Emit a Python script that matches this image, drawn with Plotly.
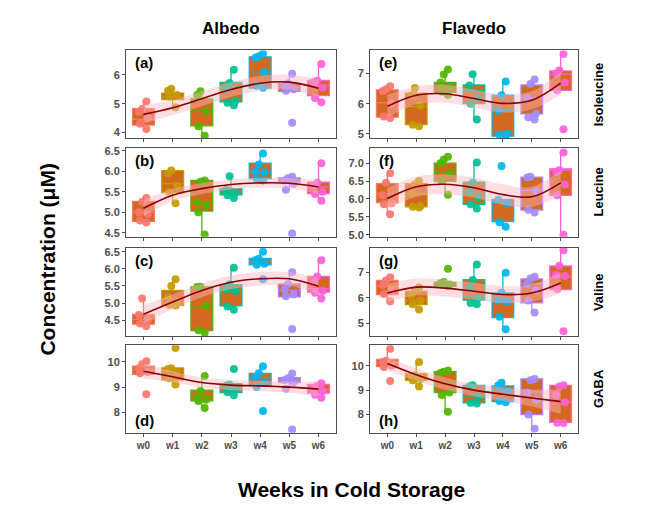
import plotly.graph_objects as go

weeks = ["w0", "w1", "w2", "w3", "w4", "w5", "w6"]
week_colors = ["#F8766D", "#C49A00", "#53B400", "#00C094", "#00B6EB", "#A58AFF", "#FB61D7"]
tissues = ["Albedo", "Flavedo"]
compounds = ["Isoleucine", "Leucine", "Valine", "GABA"]
panel_tags = [["(a)", "(e)"], ["(b)", "(f)"], ["(c)", "(g)"], ["(d)", "(h)"]]

# ---- (a) Albedo / Isoleucine ----
a_points = [[5.08, 4.82, 4.72, 4.5, 4.3, 4.12], [5.52, 5.45, 5.3, 5.25, 4.88],
            [5.43, 5.3, 4.74, 4.22, 3.89], [6.18, 5.72, 5.5, 5.1, 5.03, 4.95],
            [6.74, 6.65, 6.6, 6.1, 5.62, 5.55], [6.04, 5.7, 5.65, 5.5, 5.45, 4.34],
            [6.38, 5.8, 5.75, 5.55, 5.2, 5.05]]
a_boxes = [(4.11, 4.26, 4.46, 4.83, 5.09), (4.88, 5.14, 5.23, 5.37, 5.54), (3.89, 4.23, 4.75, 5.17, 5.43),
           (4.97, 5.06, 5.58, 5.74, 6.15), (5.5, 5.54, 6.06, 6.63, 6.74), (5.4, 5.43, 5.57, 5.71, 6.03),
           (5.05, 5.28, 5.63, 5.81, 6.38)]
a_curve = [4.63, 4.86, 5.17, 5.49, 5.71, 5.75, 5.54]
a_band = [0.32, 0.26, 0.26, 0.26, 0.26, 0.26, 0.32]

# ---- (e) Flavedo / Isoleucine ----
e_points = [[6.58, 6.48, 6.42, 6.0, 5.57, 5.52], [6.52, 6.28, 5.93, 5.3, 5.25],
            [7.14, 6.97, 6.7, 6.55, 6.4, 6.3], [6.98, 6.6, 6.2, 6.0, 5.47],
            [6.74, 6.28, 5.77, 5.0, 4.97, 4.95], [6.8, 6.65, 6.2, 5.67, 5.55, 5.47],
            [7.65, 7.1, 7.0, 6.7, 6.45, 5.15]]
e_boxes = [(5.52, 5.55, 6.03, 6.46, 6.58), (5.25, 5.3, 5.9, 6.35, 6.55), (6.28, 6.38, 6.55, 6.71, 7.14),
           (5.46, 6.0, 6.44, 6.62, 6.98), (4.92, 4.92, 5.77, 6.28, 6.74), (5.46, 5.66, 6.2, 6.62, 6.8),
           (6.44, 6.44, 6.98, 7.09, 7.63)]
e_curve = [5.91, 6.28, 6.33, 6.17, 6.01, 6.11, 6.68]
e_band = [0.38, 0.3, 0.3, 0.3, 0.3, 0.3, 0.38]

# ---- (b) Albedo / Leucine ----
b_points = [[5.35, 5.25, 5.0, 4.95, 4.8, 4.75], [6.02, 5.95, 5.65, 5.5, 5.22],
            [5.78, 5.75, 5.25, 5.18, 5.0, 4.46], [5.88, 5.55, 5.48, 5.42, 5.35],
            [6.44, 6.17, 6.0, 5.98, 5.82, 5.78], [5.87, 5.83, 5.78, 5.7, 5.55, 4.48],
            [6.2, 5.72, 5.65, 5.5, 5.45, 5.28]]
b_boxes = [(4.75, 4.78, 5.0, 5.27, 5.4), (5.23, 5.48, 5.7, 6.02, 6.02), (4.46, 5.03, 5.26, 5.78, 5.78),
           (5.35, 5.43, 5.5, 5.58, 5.9), (5.78, 5.82, 5.98, 6.2, 6.46), (5.54, 5.74, 5.8, 5.84, 5.88),
           (5.28, 5.46, 5.62, 5.74, 6.2)]
b_curve = [5.1, 5.42, 5.58, 5.68, 5.72, 5.71, 5.62]
b_band = [0.2, 0.15, 0.13, 0.12, 0.12, 0.13, 0.17]

# ---- (f) Flavedo / Leucine ----
f_points = [[6.72, 6.45, 6.1, 5.88, 5.85, 5.57], [6.5, 6.4, 6.15, 5.8, 5.78, 5.76],
            [7.18, 7.1, 7.0, 6.72, 6.5, 6.12], [7.02, 6.45, 6.2, 6.05, 5.85, 5.73],
            [6.92, 5.98, 5.88, 5.35, 5.22], [6.62, 6.6, 6.22, 5.7, 5.62],
            [7.3, 6.8, 6.75, 6.4, 6.1, 5.0]]
f_boxes = [(5.55, 5.9, 6.15, 6.43, 6.72), (5.76, 5.78, 6.15, 6.43, 6.54), (6.12, 6.49, 6.75, 7.0, 7.19),
           (5.72, 5.85, 6.2, 6.47, 7.03), (5.2, 5.37, 5.88, 5.99, 5.99), (5.62, 5.69, 6.24, 6.61, 6.62),
           (5.0, 6.1, 6.8, 6.84, 7.3)]
f_curve = [6.01, 6.34, 6.41, 6.31, 6.12, 6.06, 6.45]
f_band = [0.3, 0.28, 0.28, 0.28, 0.28, 0.28, 0.35]

# ---- (c) Albedo / Valine ----
c_points = [[5.13, 4.65, 4.5, 4.4, 4.33], [5.7, 5.5, 5.2, 5.0, 4.95, 4.93],
            [5.48, 5.47, 4.92, 4.2, 4.13], [6.03, 5.55, 5.4, 5.35, 4.9, 4.8],
            [6.5, 6.3, 6.25, 6.15, 6.12, 5.7], [5.9, 5.55, 5.4, 5.25, 5.2, 4.24],
            [6.25, 5.78, 5.6, 5.35, 5.3, 5.13]]
c_boxes = [(4.33, 4.38, 4.52, 4.67, 5.13), (4.93, 4.93, 5.13, 5.37, 5.71), (4.13, 4.19, 4.88, 5.47, 5.48),
           (4.79, 4.92, 5.37, 5.54, 6.05), (6.12, 6.12, 6.22, 6.31, 6.51), (5.18, 5.18, 5.37, 5.56, 5.93),
           (5.13, 5.32, 5.42, 5.78, 6.26)]
c_curve = [4.67, 5.03, 5.37, 5.61, 5.71, 5.71, 5.49]
c_band = [0.27, 0.22, 0.2, 0.2, 0.2, 0.2, 0.25]

# ---- (g) Flavedo / Valine ----
g_points = [[6.8, 6.68, 6.5, 6.3, 6.15, 5.87], [6.4, 6.3, 6.1, 5.9, 5.75, 5.55],
            [7.13, 6.62, 6.57, 6.52, 6.5, 6.46], [7.3, 6.7, 6.38, 6.0, 5.8, 5.75],
            [6.98, 6.2, 5.9, 5.85, 5.27, 4.78], [6.82, 6.75, 6.55, 6.3, 5.9, 5.43],
            [7.85, 7.25, 6.9, 6.85, 6.35, 4.7]]
g_boxes = [(5.83, 6.13, 6.45, 6.68, 6.83), (5.55, 5.74, 5.91, 6.26, 6.41), (6.45, 6.45, 6.51, 6.6, 6.62),
           (5.74, 5.91, 6.06, 6.71, 7.31), (4.78, 5.23, 5.87, 6.19, 6.96), (5.42, 5.81, 6.55, 6.74, 6.82),
           (6.32, 6.32, 6.83, 7.24, 7.83)]
g_curve = [6.19, 6.42, 6.38, 6.26, 6.13, 6.19, 6.58]
g_band = [0.35, 0.33, 0.33, 0.33, 0.33, 0.33, 0.42]

# ---- (d) Albedo / GABA ----
d_points = [[10.02, 9.9, 9.75, 9.6, 9.55, 8.72], [10.55, 9.75, 9.72, 9.6, 9.35, 9.1],
            [9.44, 8.85, 8.6, 8.5, 8.45, 8.17], [9.72, 9.1, 9.05, 8.95, 8.8, 8.68],
            [9.82, 9.55, 9.4, 9.15, 9.0, 8.06], [9.54, 9.35, 9.28, 9.2, 8.94, 7.32],
            [9.15, 9.05, 8.95, 8.85, 8.7, 8.58]]
d_boxes = [(9.5, 9.5, 9.67, 9.83, 10.07), (9.11, 9.28, 9.63, 9.76, 9.76), (8.22, 8.46, 8.65, 8.88, 9.44),
           (8.68, 8.78, 9.0, 9.14, 9.14), (9.0, 9.05, 9.37, 9.54, 9.83), (8.94, 9.18, 9.28, 9.37, 9.54),
           (8.59, 8.76, 8.89, 9.11, 9.2)]
d_curve = [9.63, 9.41, 9.18, 9.08, 9.05, 9.0, 8.92]
d_band = [0.3, 0.22, 0.2, 0.2, 0.2, 0.22, 0.3]

# ---- (h) Flavedo / GABA ----
h_points = [[10.69, 10.2, 10.15, 10.0, 9.95, 9.37], [10.15, 9.6, 9.55, 9.45, 9.4, 9.15],
            [9.8, 9.75, 9.7, 8.9, 8.8, 8.12], [9.2, 9.15, 8.75, 8.48, 8.45],
            [9.3, 9.2, 8.95, 8.55, 8.5], [9.45, 9.4, 8.9, 8.6, 8.0, 7.42],
            [9.2, 9.15, 8.8, 8.5, 7.67, 7.65]]
h_boxes = [(9.95, 9.96, 10.13, 10.26, 10.69), (9.17, 9.4, 9.56, 9.67, 10.16), (8.13, 8.9, 9.3, 9.76, 9.8),
           (8.45, 8.48, 8.77, 9.19, 9.2), (8.5, 8.53, 8.97, 9.17, 9.32), (7.42, 8.0, 8.93, 9.46, 9.46),
           (7.65, 7.68, 8.53, 9.19, 9.2)]
h_curve = [10.09, 9.63, 9.26, 9.0, 8.83, 8.68, 8.53]
h_band = [0.3, 0.25, 0.25, 0.25, 0.28, 0.35, 0.5]

y_ranges = [[(3.8, 6.85), (4.85, 7.77)], [(4.4, 6.57), (4.94, 7.42)],
            [(4.02, 6.62), (4.5, 7.95)], [(7.2, 10.65), (7.26, 10.83)]]
y_dticks = [[1, 1], [0.5, 0.5], [0.5, 1], [1, 1]]

panels = [[(a_points, a_boxes, a_curve, a_band), (e_points, e_boxes, e_curve, e_band)],
          [(b_points, b_boxes, b_curve, b_band), (f_points, f_boxes, f_curve, f_band)],
          [(c_points, c_boxes, c_curve, c_band), (g_points, g_boxes, g_curve, g_band)],
          [(d_points, d_boxes, d_curve, d_band), (h_points, h_boxes, h_curve, h_band)]]

W, H = 645, 512
col_px = [(118, 328), (362, 570)]
row_px = [(40, 129), (139, 229), (240, 330), (339, 427.5)]

FONT = "Arial, Liberation Sans, sans-serif"
BOX_FILL = "#D2691E"

fig = go.Figure()
layout = dict(width=W, height=H, margin=dict(l=0, r=0, t=0, b=0),
              paper_bgcolor="white", plot_bgcolor="white", showlegend=False,
              boxmode="overlay", annotations=[])

for r in range(4):
    for c in range(2):
        k = r * 2 + 1 + c
        xs = "" if k == 1 else str(k)
        xa, ya = "x" + xs, "y" + xs
        pts, boxes, curve, band = panels[r][c]
        for i, wk in enumerate(weeks):
            lo, q1, med, q3, hi = boxes[i]
            fig.add_trace(go.Box(x=[wk], q1=[q1], median=[med], q3=[q3], lowerfence=[lo], upperfence=[hi],
                                 fillcolor=BOX_FILL, line=dict(color=week_colors[i], width=1.3),
                                 width=0.75, whiskerwidth=0, boxpoints=False, xaxis=xa, yaxis=ya))
        for i, wk in enumerate(weeks):
            fig.add_trace(go.Box(x=[wk] * len(pts[i]), y=pts[i], boxpoints="all", jitter=0.5, pointpos=0,
                                 fillcolor="rgba(0,0,0,0)", line=dict(width=0, color="rgba(0,0,0,0)"),
                                 marker=dict(color=week_colors[i], size=8, opacity=0.92),
                                 width=0.75, whiskerwidth=0, xaxis=xa, yaxis=ya))
        lower = [v - b for v, b in zip(curve, band)]
        upper = [v + b for v, b in zip(curve, band)]
        fig.add_trace(go.Scatter(x=weeks, y=lower, mode="lines", line=dict(width=0, shape="spline"),
                                 xaxis=xa, yaxis=ya, hoverinfo="skip"))
        fig.add_trace(go.Scatter(x=weeks, y=upper, mode="lines", line=dict(width=0, shape="spline"),
                                 fill="tonexty", fillcolor="rgba(255,182,193,0.45)",
                                 xaxis=xa, yaxis=ya, hoverinfo="skip"))
        fig.add_trace(go.Scatter(x=weeks, y=curve, mode="lines",
                                 line=dict(color="#8B0000", width=1.6, shape="spline"),
                                 xaxis=xa, yaxis=ya))

        x0, x1 = col_px[c]
        t, b = row_px[r]
        layout["xaxis" + xs] = dict(domain=[x0 / W, x1 / W], anchor=ya, type="category",
                                    categoryorder="array", categoryarray=weeks, range=[-0.6, 6.6],
                                    showline=True, mirror=True, linecolor="#4d4d4d", linewidth=1,
                                    ticks="outside", ticklen=3, tickcolor="#4d4d4d", showgrid=False,
                                    zeroline=False, showticklabels=(r == 3),
                                    tickfont=dict(family=FONT, size=10, color="#4d4d4d", weight="bold"))
        yr = y_ranges[r][c]
        dt = y_dticks[r][c]
        layout["yaxis" + xs] = dict(domain=[1 - b / H, 1 - t / H], anchor=xa, range=list(yr),
                                    dtick=dt, tick0=0, tickformat=".1f" if dt < 1 else "d",
                                    showline=True, mirror=True, linecolor="#4d4d4d", linewidth=1,
                                    ticks="outside", ticklen=3, tickcolor="#4d4d4d", showgrid=False,
                                    zeroline=False,
                                    tickfont=dict(family=FONT, size=11, color="#4d4d4d", weight="bold"))
        ytag = 0.86 if r < 3 else 0.14
        layout["annotations"].append(dict(text=panel_tags[r][c], xref=xa + " domain", yref=ya + " domain",
                                          x=0.035, y=ytag, xanchor="left", yanchor="middle", showarrow=False,
                                          font=dict(family=FONT, size=15, color="black", weight="bold")))
    t, b = row_px[r]
    layout["annotations"].append(dict(text=compounds[r], xref="paper", yref="paper", x=590 / W,
                                      y=1 - (t + b) / 2 / H, textangle=-90, showarrow=False,
                                      xanchor="center", yanchor="middle",
                                      font=dict(family=FONT, size=13, color="black", weight="bold")))

for c in range(2):
    x0, x1 = col_px[c]
    layout["annotations"].append(dict(text=tissues[c], xref="paper", yref="paper", x=(x0 + x1) / 2 / W,
                                      y=1 - 18 / H, showarrow=False, xanchor="center", yanchor="middle",
                                      font=dict(family=FONT, size=17, color="black", weight="bold")))

layout["annotations"].append(dict(text="Concentration (μM)", xref="paper", yref="paper", x=40 / W,
                                  y=1 - 252 / H, textangle=-90, showarrow=False, xanchor="center",
                                  yanchor="middle",
                                  font=dict(family=FONT, size=21, color="black", weight="bold")))
layout["annotations"].append(dict(text="Weeks in Cold Storage", xref="paper", yref="paper", x=343 / W,
                                  y=1 - 485 / H, showarrow=False, xanchor="center", yanchor="middle",
                                  font=dict(family=FONT, size=21, color="black", weight="bold")))

fig.update_layout(**layout)
fig.write_html("out.html")
